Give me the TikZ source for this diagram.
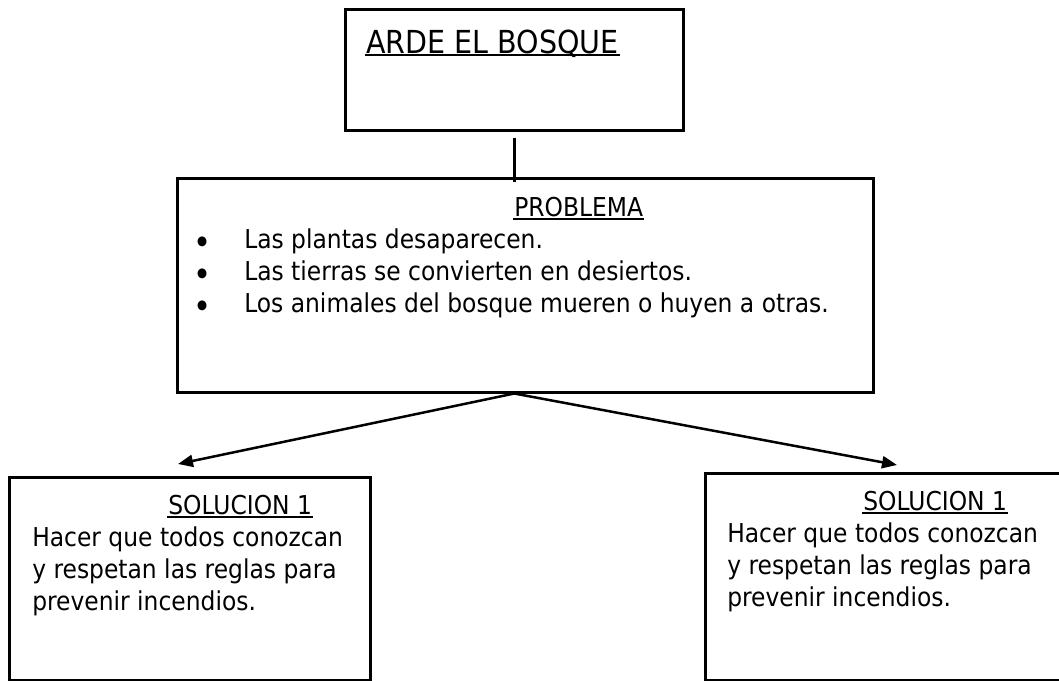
\documentclass[tikz,border=0pt]{standalone}
\usepackage{fontspec}
\setmainfont[FakeStretch=0.9]{DejaVu Sans}
\usetikzlibrary{arrows.meta}

\begin{document}
\begin{tikzpicture}[x=1pt, y=-1pt, line width=2.5pt,
    box/.style = {draw, rectangle, inner sep=0pt, anchor=north west},
    txt/.style = {anchor=base west, inner sep=0pt, font=\fontsize{26}{32}\selectfont},
    head/.style = {txt, font=\fontsize{31.7}{38}\selectfont},
    bul/.style = {anchor=base, inner sep=0pt, font=\fontsize{34}{32}\selectfont},
    uline/.style = {line width=1.8pt},
    arr/.style = {-{Triangle[length=15pt,width=12pt]}}]
        \useasboundingbox (0,0) rectangle (1059,680);

        % top box
        \node[box, minimum width=338, minimum height=121] (bosque) at (344,8) {};
        \node[head] (titulo) at (365,53) {ARDE EL BOSQUE};
        \draw[uline] ([yshift=-2pt]titulo.base west) -- ([yshift=-2pt]titulo.base east);

        % problem box
        \node[box, minimum width=696, minimum height=214] (problema) at (176,177) {};
        \node[txt] (probtit) at (513,216) {PROBLEMA};
        \draw[uline] ([yshift=-3pt]probtit.base west) -- ([yshift=-3pt]probtit.base east);
        \node[bul] (b1) at (203,254) {•};
        \node[bul] (b2) at (203,286) {•};
        \node[bul] (b3) at (203,318) {•};
        \node[txt] (l1) at (243,248) {Las plantas desaparecen.};
        \node[txt] (l2) at (243,280) {Las tierras se convierten en desiertos.};
        \node[txt] (l3) at (243,312) {Los animales del bosque mueren o huyen a otras.};

        % solution boxes
        \node[box, minimum width=361, minimum height=203] (sol1) at (8,476) {};
        \node[txt] (s1tit) at (167,514) {SOLUCION 1};
        \draw[uline] ([yshift=-3pt]s1tit.base west) -- ([yshift=-3pt]s1tit.base east);
        \node[txt] (s1a) at (31,546) {Hacer que todos conozcan};
        \node[txt] (s1b) at (31,578) {y respetan las reglas para};
        \node[txt] (s1c) at (31,610) {prevenir incendios.};

        \node[box, minimum width=390, minimum height=207] (sol2) at (704,472) {};
        \node[txt] (s2tit) at (862,510) {SOLUCION 1};
        \draw[uline] ([yshift=-3pt]s2tit.base west) -- ([yshift=-3pt]s2tit.base east);
        \node[txt] (s2a) at (726,542) {Hacer que todos conozcan};
        \node[txt] (s2b) at (726,574) {y respetan las reglas para};
        \node[txt] (s2c) at (726,606) {prevenir incendios.};

        % connectors
        \coordinate (fork) at (bosque.south |- problema.south);
        \coordinate (izq) at (178,464);
        \coordinate (der) at (897,465);
        \draw ([yshift=-6pt]bosque.south) -- ([yshift=-5pt]bosque.south |- problema.north);
        \draw[arr] (fork) -- (izq);
        \draw[arr] (fork) -- (der);
\end{tikzpicture}
\end{document}
